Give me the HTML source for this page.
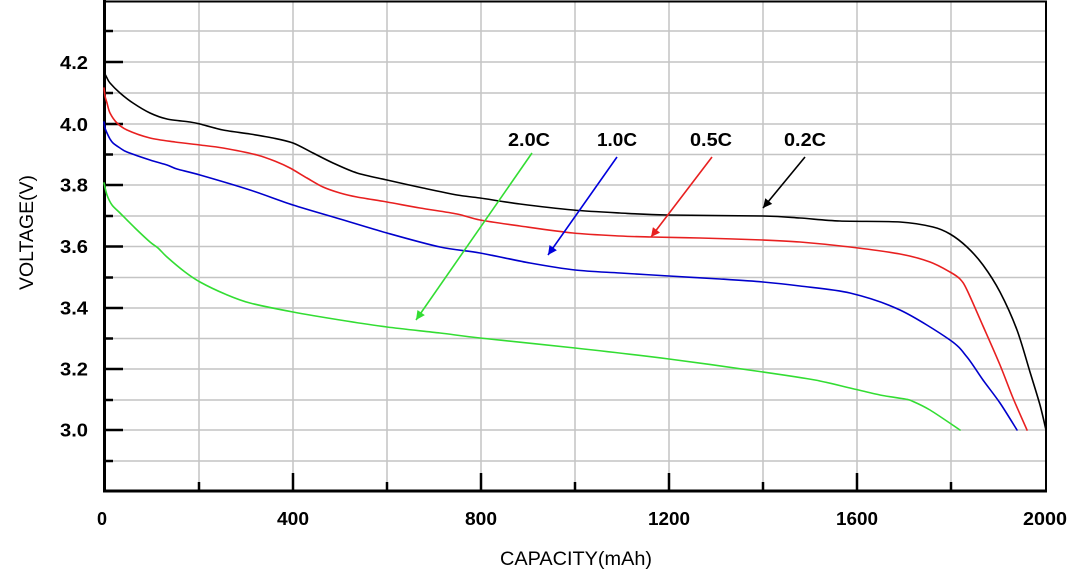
<!DOCTYPE html>
<html><head><meta charset="utf-8"><style>
html,body{margin:0;padding:0;background:#fff;}
svg{display:block;}
text{font-family:"Liberation Sans",Arial,sans-serif;}
</style></head><body>
<svg id="chart" width="1080" height="575" viewBox="0 0 1080 575" xmlns="http://www.w3.org/2000/svg">
<defs>
<marker id="ag" viewBox="0 0 10 10" refX="10" refY="5" markerWidth="11" markerHeight="9" markerUnits="userSpaceOnUse" orient="auto"><path d="M0,0 L10,5 L0,10 z" fill="#33dd33"/></marker>
<marker id="ab" viewBox="0 0 10 10" refX="10" refY="5" markerWidth="11" markerHeight="9" markerUnits="userSpaceOnUse" orient="auto"><path d="M0,0 L10,5 L0,10 z" fill="#0000dd"/></marker>
<marker id="ar" viewBox="0 0 10 10" refX="10" refY="5" markerWidth="11" markerHeight="9" markerUnits="userSpaceOnUse" orient="auto"><path d="M0,0 L10,5 L0,10 z" fill="#e82020"/></marker>
<marker id="ak" viewBox="0 0 10 10" refX="10" refY="5" markerWidth="11" markerHeight="9" markerUnits="userSpaceOnUse" orient="auto"><path d="M0,0 L10,5 L0,10 z" fill="#000"/></marker>
</defs>
<rect width="1080" height="575" fill="#fff"/>
<g stroke="#c4c4c4" stroke-width="1.5">
<line x1="105" y1="31" x2="1046" y2="31"/>
<line x1="105" y1="62" x2="1046" y2="62"/>
<line x1="105" y1="93" x2="1046" y2="93"/>
<line x1="105" y1="124" x2="1046" y2="124"/>
<line x1="105" y1="154.5" x2="1046" y2="154.5"/>
<line x1="105" y1="185" x2="1046" y2="185"/>
<line x1="105" y1="216" x2="1046" y2="216"/>
<line x1="105" y1="246.5" x2="1046" y2="246.5"/>
<line x1="105" y1="277.5" x2="1046" y2="277.5"/>
<line x1="105" y1="308" x2="1046" y2="308"/>
<line x1="105" y1="338.5" x2="1046" y2="338.5"/>
<line x1="105" y1="369" x2="1046" y2="369"/>
<line x1="105" y1="400" x2="1046" y2="400"/>
<line x1="105" y1="430" x2="1046" y2="430"/>
<line x1="105" y1="461" x2="1046" y2="461"/>
<line x1="199" y1="2" x2="199" y2="491"/>
<line x1="293" y1="2" x2="293" y2="491"/>
<line x1="387" y1="2" x2="387" y2="491"/>
<line x1="481" y1="2" x2="481" y2="491"/>
<line x1="575" y1="2" x2="575" y2="491"/>
<line x1="669" y1="2" x2="669" y2="491"/>
<line x1="763" y1="2" x2="763" y2="491"/>
<line x1="857" y1="2" x2="857" y2="491"/>
<line x1="951" y1="2" x2="951" y2="491"/>
</g>
<rect x="105" y="1.5" width="941" height="489.5" fill="none" stroke="#000" stroke-width="2"/>
<line x1="104.5" y1="0" x2="104.5" y2="492" stroke="#000" stroke-width="3"/>
<line x1="103" y1="491" x2="1047" y2="491" stroke="#000" stroke-width="3"/>
<g stroke="#000" stroke-width="2.5">
<line x1="105" y1="31" x2="113" y2="31"/>
<line x1="105" y1="62" x2="123" y2="62"/>
<line x1="105" y1="93" x2="113" y2="93"/>
<line x1="105" y1="124" x2="123" y2="124"/>
<line x1="105" y1="154.5" x2="113" y2="154.5"/>
<line x1="105" y1="185" x2="123" y2="185"/>
<line x1="105" y1="216" x2="113" y2="216"/>
<line x1="105" y1="246.5" x2="123" y2="246.5"/>
<line x1="105" y1="277.5" x2="113" y2="277.5"/>
<line x1="105" y1="308" x2="123" y2="308"/>
<line x1="105" y1="338.5" x2="113" y2="338.5"/>
<line x1="105" y1="369" x2="123" y2="369"/>
<line x1="105" y1="400" x2="113" y2="400"/>
<line x1="105" y1="430" x2="123" y2="430"/>
<line x1="105" y1="461" x2="113" y2="461"/>
<line x1="199" y1="491" x2="199" y2="482"/>
<line x1="293" y1="491" x2="293" y2="473"/>
<line x1="387" y1="491" x2="387" y2="482"/>
<line x1="481" y1="491" x2="481" y2="473"/>
<line x1="575" y1="491" x2="575" y2="482"/>
<line x1="669" y1="491" x2="669" y2="473"/>
<line x1="763" y1="491" x2="763" y2="482"/>
<line x1="857" y1="491" x2="857" y2="473"/>
<line x1="951" y1="491" x2="951" y2="482"/>
</g>
<g style="font-size:18px;font-weight:bold" fill="#000" text-anchor="end">
<text x="88" y="69" textLength="28" lengthAdjust="spacingAndGlyphs">4.2</text>
<text x="88" y="131" textLength="28" lengthAdjust="spacingAndGlyphs">4.0</text>
<text x="88" y="191.5" textLength="28" lengthAdjust="spacingAndGlyphs">3.8</text>
<text x="88" y="253" textLength="28" lengthAdjust="spacingAndGlyphs">3.6</text>
<text x="88" y="314.5" textLength="28" lengthAdjust="spacingAndGlyphs">3.4</text>
<text x="88" y="375.5" textLength="28" lengthAdjust="spacingAndGlyphs">3.2</text>
<text x="88" y="436.5" textLength="28" lengthAdjust="spacingAndGlyphs">3.0</text>
</g>
<g style="font-size:18px;font-weight:bold" fill="#000" text-anchor="middle">
<text x="102" y="525">0</text>
<text x="293" y="525" textLength="32" lengthAdjust="spacingAndGlyphs">400</text>
<text x="481" y="525" textLength="32" lengthAdjust="spacingAndGlyphs">800</text>
<text x="669" y="525" textLength="42" lengthAdjust="spacingAndGlyphs">1200</text>
<text x="857" y="525" textLength="42" lengthAdjust="spacingAndGlyphs">1600</text>
<text x="1045" y="525" textLength="44" lengthAdjust="spacingAndGlyphs">2000</text>
</g>
<text x="576" y="565" style="font-size:19px" text-anchor="middle" fill="#000" textLength="152" lengthAdjust="spacingAndGlyphs">CAPACITY(mAh)</text>
<text x="0" y="0" style="font-size:19px" text-anchor="middle" fill="#000" transform="translate(33,232.5) rotate(-90)" textLength="115" lengthAdjust="spacingAndGlyphs">VOLTAGE(V)</text>
<g fill="none" stroke-width="1.6" stroke-linejoin="round" stroke-linecap="round">
<polyline class="sm" stroke="#000" points="104,72 107,78 110,83 120,93 133,103 150,113 167,119 190,122 200,124 223,130 250,134 273,138 293,143 313,153 333,163 357,173 387,180 423,188 457,195 480,198 520,204 573,210 620,213 667,215 763,216 800,218 840,221 900,222 933,227 950,234 967,247 983,265 1000,292 1017,330 1030,372 1040,405 1046,430"/>
<polyline class="sm" stroke="#e82020" points="104,88 105,96 107,103 110,113 117,123 127,130 150,138 175,142 200,145 223,148 257,155 277,162 290,168 307,178 323,187 340,193 357,197 387,202 420,208 457,214 480,220 520,226 573,233 620,236 651,237 700,238 763,240 800,242 850,247 900,254 930,262 950,272 960,279 967,290 983,326 1000,365 1013,398 1027,430"/>
<polyline class="sm" stroke="#0000cc" points="104,122 105,128 107,133 110,139 113,143 120,148 127,152 150,160 167,165 177,169 200,175 250,190 293,205 340,219 387,233 440,247 480,253 530,263 575,270 620,273 669,276 720,279 763,282 800,286 850,293 900,310 950,340 967,357 983,380 1000,403 1017,430"/>
<polyline class="sm" stroke="#33dd33" points="104,183 107,195 112,205 120,213 135,228 150,242 158,248 167,257 185,272 200,282 225,294 250,303 293,312 340,320 387,327 440,333 480,338 575,348 669,359 763,372 815,380 850,388 880,395 905,399 912,401 930,410 960,430"/>
</g>
<g stroke-width="1.6" fill="none">
<line x1="532" y1="153" x2="416" y2="320" stroke="#33dd33" marker-end="url(#ag)"/>
<line x1="617" y1="157" x2="548" y2="255" stroke="#0000dd" marker-end="url(#ab)"/>
<line x1="712" y1="157" x2="651" y2="237" stroke="#e82020" marker-end="url(#ar)"/>
<line x1="805" y1="157" x2="763" y2="208" stroke="#000" marker-end="url(#ak)"/>
</g>
<g style="font-size:18px;font-weight:bold" fill="#000">
<text x="508" y="146" textLength="42" lengthAdjust="spacingAndGlyphs">2.0C</text>
<text x="597" y="146" textLength="40" lengthAdjust="spacingAndGlyphs">1.0C</text>
<text x="690" y="146" textLength="42" lengthAdjust="spacingAndGlyphs">0.5C</text>
<text x="784" y="146" textLength="42" lengthAdjust="spacingAndGlyphs">0.2C</text>
</g>
</svg>
<script>
(function(){
  var NS="http://www.w3.org/2000/svg";
  var pls=document.querySelectorAll("polyline.sm");
  for(var i=0;i<pls.length;i++){
    var pl=pls[i];
    var nums=pl.getAttribute("points").trim().split(/[\s,]+/).map(Number);
    var p=[];for(var k=0;k<nums.length;k+=2)p.push([nums[k],nums[k+1]]);
    var d="M"+p[0][0]+","+p[0][1];
    for(var j=0;j<p.length-1;j++){
      var p0=p[j-1]||p[j],p1=p[j],p2=p[j+1],p3=p[j+2]||p2;
      var t=0.5/3;
      var c1x=p1[0]+(p2[0]-p0[0])*t*0.9,c1y=p1[1]+(p2[1]-p0[1])*t*0.9;
      var c2x=p2[0]-(p3[0]-p1[0])*t*0.9,c2y=p2[1]-(p3[1]-p1[1])*t*0.9;
      d+=" C"+c1x.toFixed(2)+","+c1y.toFixed(2)+" "+c2x.toFixed(2)+","+c2y.toFixed(2)+" "+p2[0]+","+p2[1];
    }
    var path=document.createElementNS(NS,"path");
    path.setAttribute("d",d);
    path.setAttribute("stroke",pl.getAttribute("stroke"));
    pl.parentNode.replaceChild(path,pl);
  }
})();
</script>
</body></html>
